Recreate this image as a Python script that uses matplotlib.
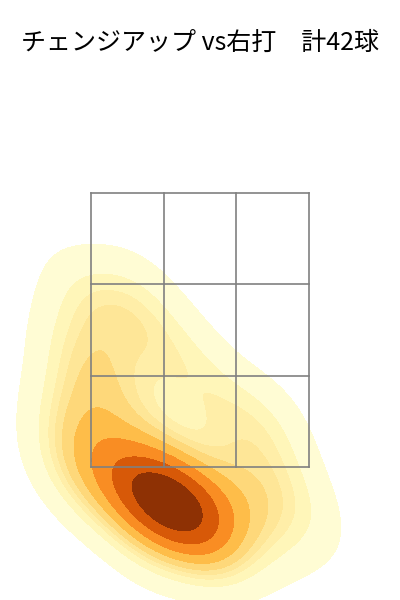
import numpy as np
import matplotlib
matplotlib.use("Agg")
import matplotlib.pyplot as plt
import seaborn as sns

plt.rcParams["font.family"] = ["Noto Sans CJK JP", "DejaVu Sans"]

TITLE = "チェンジアップ vs右打　計42球"

# pitch locations (plate x, height), zone is x -0.75..0.75, y 1.5..3.5
PX = [-0.50, -0.45, -0.40, -0.35, -0.30, -0.27, -0.22, -0.18, -0.14, -0.10, -0.05, 0.00,
      0.06, -0.32, -0.08,
      -0.65, -0.75, -0.80, -0.68, -0.90, -0.78, -0.62, -0.88, -0.68, -0.55, -0.40, -0.95, -0.80,
      -0.30, -0.05, -0.35, 0.05,
      0.20, 0.35, 0.55, 0.72, 0.45, 0.30, 0.48, 0.20,
      -0.40, 0.00]
PY = [1.36, 1.30, 1.38, 1.28, 1.34, 1.24, 1.30, 1.22, 1.28, 1.18, 1.24, 1.16,
      1.20, 1.18, 1.10,
      1.45, 1.30, 1.65, 1.85, 1.85, 2.05, 2.15, 2.35, 2.45, 2.65, 2.75, 1.50, 2.75,
      2.35, 2.30, 1.85, 1.95,
      1.40, 1.28, 1.45, 1.15, 1.05, 1.80, 1.85, 1.00,
      0.95, 0.92]

ZONE_X = [-0.75, -0.25, 0.25, 0.75]
ZONE_Y = [1.5, 2.1667, 2.8333, 3.5]

fig = plt.figure(figsize=(4, 6), dpi=100)
ax = fig.add_axes([0, 0, 1, 1])

sns.kdeplot(x=PX, y=PY, fill=True, cmap="YlOrBr", levels=10, thresh=0.05, ax=ax)

for x in ZONE_X:
    ax.plot([x, x], [ZONE_Y[0], ZONE_Y[-1]], color="gray", lw=1.2, zorder=5)
for y in ZONE_Y:
    ax.plot([ZONE_X[0], ZONE_X[-1]], [y, y], color="gray", lw=1.2, zorder=5)

ax.set_xlim(-1.376, 1.376)
ax.set_ylim(0.529, 4.909)
ax.axis("off")

fig.text(0.5, 1 - 43 / 600, TITLE, ha="center", va="center", fontsize=18)

fig.savefig("out.png", dpi=100, facecolor="white")
